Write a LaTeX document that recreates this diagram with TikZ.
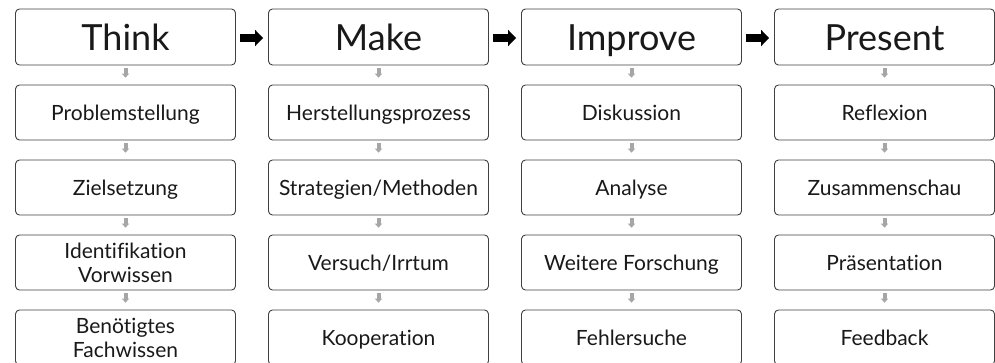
\documentclass[tikz,border=0pt]{standalone}
\usepackage{fontspec}
\setmainfont{Lato}[Ligatures={NoCommon,NoRare,NoContextual}]
\usepackage{tikz}
\usetikzlibrary{arrows.meta,positioning}
\definecolor{boxline}{HTML}{404040}
\definecolor{subarr}{HTML}{A6A6A6}
\tikzset{
	blk/.style={draw=boxline, rounded corners=4pt, line width=0.9pt, fill=white,
		minimum width=220pt, minimum height=55pt, align=center, inner sep=2pt,
		font=\fontsize{21}{24}\selectfont, text=black!90,
		text height=15pt, text depth=0pt},
	blktwo/.style={blk, text height=39pt},
	hdr/.style={blk, minimum height=56pt, font=\fontsize{36}{40}\selectfont,
		text height=26pt},
	subarrow/.style={draw=subarr, line width=4pt, shorten <=3pt, shorten >=7pt,
		-{Triangle[width=7.5pt, length=4pt]}},
	hdrarrow/.style={draw=black, line width=8pt, shorten <=4pt, shorten >=5pt,
		-{Triangle[width=16pt, length=8pt]}},
}
\begin{document}
\begin{tikzpicture}[x=1pt, y=1pt]
	\useasboundingbox (0,0) rectangle (995,-362);
	% headers
	\node[hdr] at (125.5,-37.0) (think) {Think};
	\node[hdr] at (378.5,-37.0) (make) {Make};
	\node[hdr] at (631.5,-37.0) (improve) {Improve};
	\node[hdr] at (884.5,-37.0) (present) {Present};
	% Think
	\node[blk] at (125.5,-112.5) (prob) {Problemstellung};
	\node[blk] at (125.5,-187.5) (ziel) {Zielsetzung};
	\node[blktwo] at (125.5,-262.5) (vorw) {Identifikation\\Vorwissen};
	\node[blktwo] at (125.5,-337.5) (fach) {Benötigtes\\Fachwissen};
	% Make
	\node[blk] at (378.5,-112.5) (herst) {Herstellungsprozess};
	\node[blk] at (378.5,-187.5) (strat) {Strategien/Methoden};
	\node[blk] at (378.5,-262.5) (vers) {Versuch/Irrtum};
	\node[blk] at (378.5,-337.5) (koop) {Kooperation};
	% Improve
	\node[blk] at (631.5,-112.5) (disk) {Diskussion};
	\node[blk] at (631.5,-187.5) (anal) {Analyse};
	\node[blk] at (631.5,-262.5) (forsch) {Weitere Forschung};
	\node[blk] at (631.5,-337.5) (fehl) {Fehlersuche};
	% Present
	\node[blk] at (884.5,-112.5) (refl) {Reflexion};
	\node[blk] at (884.5,-187.5) (zus) {Zusammenschau};
	\node[blk] at (884.5,-262.5) (praes) {Präsentation};
	\node[blk] at (884.5,-337.5) (feed) {Feedback};
	% header arrows
	\draw[hdrarrow] ([yshift=-1pt]think.east) -- ([yshift=-1pt]make.west);
	\draw[hdrarrow] ([yshift=-1pt]make.east) -- ([yshift=-1pt]improve.west);
	\draw[hdrarrow] ([yshift=-1pt]improve.east) -- ([yshift=-1pt]present.west);
	% column arrows
	\draw[subarrow] (think) -- (prob);
	\draw[subarrow] (prob) -- (ziel);
	\draw[subarrow] (ziel) -- (vorw);
	\draw[subarrow] (vorw) -- (fach);
	\draw[subarrow] (make) -- (herst);
	\draw[subarrow] (herst) -- (strat);
	\draw[subarrow] (strat) -- (vers);
	\draw[subarrow] (vers) -- (koop);
	\draw[subarrow] (improve) -- (disk);
	\draw[subarrow] (disk) -- (anal);
	\draw[subarrow] (anal) -- (forsch);
	\draw[subarrow] (forsch) -- (fehl);
	\draw[subarrow] (present) -- (refl);
	\draw[subarrow] (refl) -- (zus);
	\draw[subarrow] (zus) -- (praes);
	\draw[subarrow] (praes) -- (feed);
\end{tikzpicture}
\end{document}
